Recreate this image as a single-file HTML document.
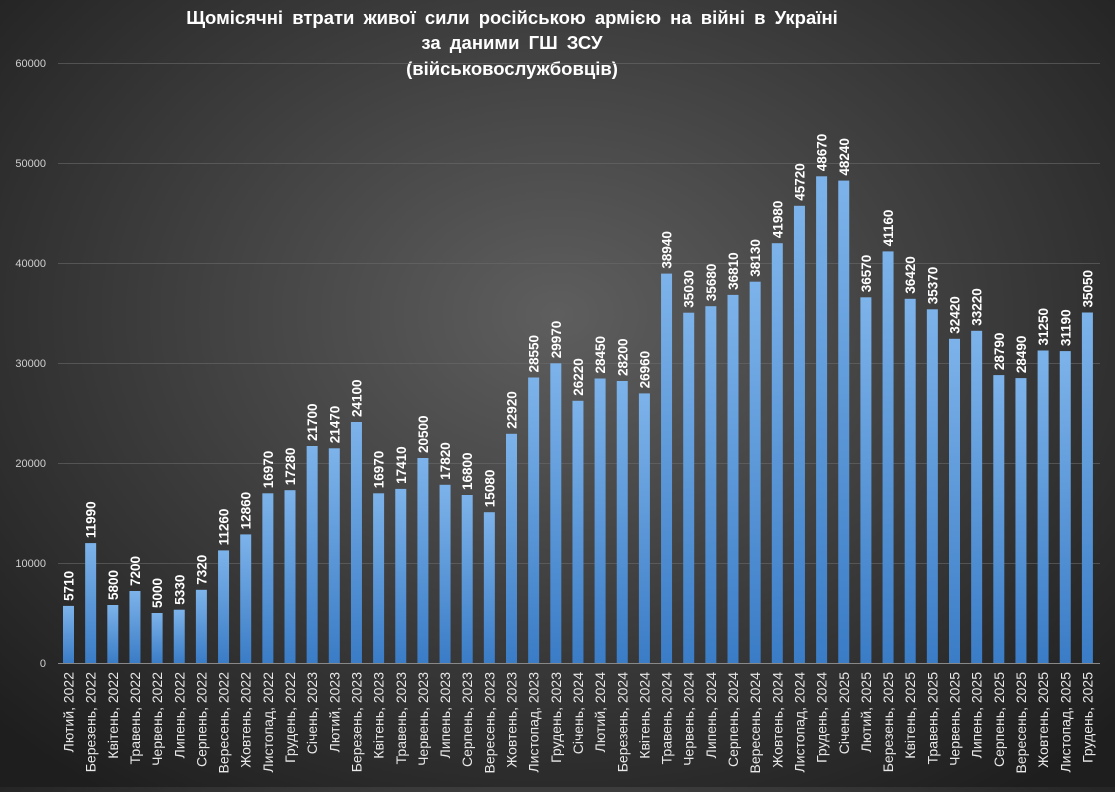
<!DOCTYPE html>
<html><head><meta charset="utf-8"><style>
html,body{margin:0;padding:0;}
body{width:1115px;height:787px;overflow:hidden;background:radial-gradient(ellipse 70% 75% at 50% 40%,#5e5e5e 0%,#3e3e3e 50%,#1e1e1e 100%);font-family:"Liberation Sans",sans-serif;}
svg text{font-family:"Liberation Sans",sans-serif;}
.v{font-weight:bold;fill:#fff;font-size:13.5px;}
.m{fill:#e8e8e8;font-size:14px;text-anchor:end;}
</style></head><body>
<svg width="1115" height="787" xmlns="http://www.w3.org/2000/svg">
<defs><linearGradient id="g" x1="0" y1="0" x2="0" y2="1"><stop offset="0" stop-color="#7db3ea"/><stop offset="1" stop-color="#3a7cc6"/></linearGradient></defs>
<g font-weight="bold" font-size="18.5" fill="#fff" text-anchor="middle" word-spacing="4">
<text x="512" y="24">Щомісячні  втрати живої сили російською  армією  на війні  в Україні</text>
<text x="512" y="49">за даними  ГШ ЗСУ</text>
<text x="512" y="75">(військовослужбовців)</text>
</g>
<g stroke="#6a6a6a" stroke-width="1" opacity="0.6">
<line x1="58" x2="1100" y1="63.5" y2="63.5"/><line x1="58" x2="1100" y1="163.5" y2="163.5"/><line x1="58" x2="1100" y1="263.5" y2="263.5"/><line x1="58" x2="1100" y1="363.5" y2="363.5"/><line x1="58" x2="1100" y1="463.5" y2="463.5"/><line x1="58" x2="1100" y1="563.5" y2="563.5"/>
</g>
<line x1="58" x2="1100" y1="663.5" y2="663.5" stroke="#888"/>
<g font-size="11" fill="#d0d0d0" text-anchor="end">
<text x="46" y="67">60000</text><text x="46" y="167">50000</text><text x="46" y="267">40000</text><text x="46" y="367">30000</text><text x="46" y="467">20000</text><text x="46" y="567">10000</text><text x="46" y="667">0</text>
</g>
<g>
<g transform="translate(68.5,663)"><rect x="-5.5" y="-57.1" width="11" height="57.1" fill="url(#g)"/><text class="v" transform="translate(5,-62.1) rotate(-90)">5710</text><text class="m" transform="translate(5,9) rotate(-90)">Лютий, 2022</text></g>
<g transform="translate(90.65,663)"><rect x="-5.5" y="-119.9" width="11" height="119.9" fill="url(#g)"/><text class="v" transform="translate(5,-124.9) rotate(-90)">11990</text><text class="m" transform="translate(5,9) rotate(-90)">Березень, 2022</text></g>
<g transform="translate(112.8,663)"><rect x="-5.5" y="-58" width="11" height="58" fill="url(#g)"/><text class="v" transform="translate(5,-63) rotate(-90)">5800</text><text class="m" transform="translate(5,9) rotate(-90)">Квітень, 2022</text></g>
<g transform="translate(134.95,663)"><rect x="-5.5" y="-72" width="11" height="72" fill="url(#g)"/><text class="v" transform="translate(5,-77) rotate(-90)">7200</text><text class="m" transform="translate(5,9) rotate(-90)">Травень, 2022</text></g>
<g transform="translate(157.1,663)"><rect x="-5.5" y="-50" width="11" height="50" fill="url(#g)"/><text class="v" transform="translate(5,-55) rotate(-90)">5000</text><text class="m" transform="translate(5,9) rotate(-90)">Червень, 2022</text></g>
<g transform="translate(179.25,663)"><rect x="-5.5" y="-53.3" width="11" height="53.3" fill="url(#g)"/><text class="v" transform="translate(5,-58.3) rotate(-90)">5330</text><text class="m" transform="translate(5,9) rotate(-90)">Липень, 2022</text></g>
<g transform="translate(201.4,663)"><rect x="-5.5" y="-73.2" width="11" height="73.2" fill="url(#g)"/><text class="v" transform="translate(5,-78.2) rotate(-90)">7320</text><text class="m" transform="translate(5,9) rotate(-90)">Серпень, 2022</text></g>
<g transform="translate(223.55,663)"><rect x="-5.5" y="-112.6" width="11" height="112.6" fill="url(#g)"/><text class="v" transform="translate(5,-117.6) rotate(-90)">11260</text><text class="m" transform="translate(5,9) rotate(-90)">Вересень, 2022</text></g>
<g transform="translate(245.7,663)"><rect x="-5.5" y="-128.6" width="11" height="128.6" fill="url(#g)"/><text class="v" transform="translate(5,-133.6) rotate(-90)">12860</text><text class="m" transform="translate(5,9) rotate(-90)">Жовтень, 2022</text></g>
<g transform="translate(267.85,663)"><rect x="-5.5" y="-169.7" width="11" height="169.7" fill="url(#g)"/><text class="v" transform="translate(5,-174.7) rotate(-90)">16970</text><text class="m" transform="translate(5,9) rotate(-90)">Листопад, 2022</text></g>
<g transform="translate(290,663)"><rect x="-5.5" y="-172.8" width="11" height="172.8" fill="url(#g)"/><text class="v" transform="translate(5,-177.8) rotate(-90)">17280</text><text class="m" transform="translate(5,9) rotate(-90)">Грудень, 2022</text></g>
<g transform="translate(312.15,663)"><rect x="-5.5" y="-217" width="11" height="217" fill="url(#g)"/><text class="v" transform="translate(5,-222) rotate(-90)">21700</text><text class="m" transform="translate(5,9) rotate(-90)">Січень, 2023</text></g>
<g transform="translate(334.3,663)"><rect x="-5.5" y="-214.7" width="11" height="214.7" fill="url(#g)"/><text class="v" transform="translate(5,-219.7) rotate(-90)">21470</text><text class="m" transform="translate(5,9) rotate(-90)">Лютий, 2023</text></g>
<g transform="translate(356.45,663)"><rect x="-5.5" y="-241" width="11" height="241" fill="url(#g)"/><text class="v" transform="translate(5,-246) rotate(-90)">24100</text><text class="m" transform="translate(5,9) rotate(-90)">Березень, 2023</text></g>
<g transform="translate(378.6,663)"><rect x="-5.5" y="-169.7" width="11" height="169.7" fill="url(#g)"/><text class="v" transform="translate(5,-174.7) rotate(-90)">16970</text><text class="m" transform="translate(5,9) rotate(-90)">Квітень, 2023</text></g>
<g transform="translate(400.75,663)"><rect x="-5.5" y="-174.1" width="11" height="174.1" fill="url(#g)"/><text class="v" transform="translate(5,-179.1) rotate(-90)">17410</text><text class="m" transform="translate(5,9) rotate(-90)">Травень, 2023</text></g>
<g transform="translate(422.9,663)"><rect x="-5.5" y="-205" width="11" height="205" fill="url(#g)"/><text class="v" transform="translate(5,-210) rotate(-90)">20500</text><text class="m" transform="translate(5,9) rotate(-90)">Червень, 2023</text></g>
<g transform="translate(445.05,663)"><rect x="-5.5" y="-178.2" width="11" height="178.2" fill="url(#g)"/><text class="v" transform="translate(5,-183.2) rotate(-90)">17820</text><text class="m" transform="translate(5,9) rotate(-90)">Липень, 2023</text></g>
<g transform="translate(467.2,663)"><rect x="-5.5" y="-168" width="11" height="168" fill="url(#g)"/><text class="v" transform="translate(5,-173) rotate(-90)">16800</text><text class="m" transform="translate(5,9) rotate(-90)">Серпень, 2023</text></g>
<g transform="translate(489.35,663)"><rect x="-5.5" y="-150.8" width="11" height="150.8" fill="url(#g)"/><text class="v" transform="translate(5,-155.8) rotate(-90)">15080</text><text class="m" transform="translate(5,9) rotate(-90)">Вересень, 2023</text></g>
<g transform="translate(511.5,663)"><rect x="-5.5" y="-229.2" width="11" height="229.2" fill="url(#g)"/><text class="v" transform="translate(5,-234.2) rotate(-90)">22920</text><text class="m" transform="translate(5,9) rotate(-90)">Жовтень, 2023</text></g>
<g transform="translate(533.65,663)"><rect x="-5.5" y="-285.5" width="11" height="285.5" fill="url(#g)"/><text class="v" transform="translate(5,-290.5) rotate(-90)">28550</text><text class="m" transform="translate(5,9) rotate(-90)">Листопад, 2023</text></g>
<g transform="translate(555.8,663)"><rect x="-5.5" y="-299.7" width="11" height="299.7" fill="url(#g)"/><text class="v" transform="translate(5,-304.7) rotate(-90)">29970</text><text class="m" transform="translate(5,9) rotate(-90)">Грудень, 2023</text></g>
<g transform="translate(577.95,663)"><rect x="-5.5" y="-262.2" width="11" height="262.2" fill="url(#g)"/><text class="v" transform="translate(5,-267.2) rotate(-90)">26220</text><text class="m" transform="translate(5,9) rotate(-90)">Січень, 2024</text></g>
<g transform="translate(600.1,663)"><rect x="-5.5" y="-284.5" width="11" height="284.5" fill="url(#g)"/><text class="v" transform="translate(5,-289.5) rotate(-90)">28450</text><text class="m" transform="translate(5,9) rotate(-90)">Лютий, 2024</text></g>
<g transform="translate(622.25,663)"><rect x="-5.5" y="-282" width="11" height="282" fill="url(#g)"/><text class="v" transform="translate(5,-287) rotate(-90)">28200</text><text class="m" transform="translate(5,9) rotate(-90)">Березень, 2024</text></g>
<g transform="translate(644.4,663)"><rect x="-5.5" y="-269.6" width="11" height="269.6" fill="url(#g)"/><text class="v" transform="translate(5,-274.6) rotate(-90)">26960</text><text class="m" transform="translate(5,9) rotate(-90)">Квітень, 2024</text></g>
<g transform="translate(666.55,663)"><rect x="-5.5" y="-389.4" width="11" height="389.4" fill="url(#g)"/><text class="v" transform="translate(5,-394.4) rotate(-90)">38940</text><text class="m" transform="translate(5,9) rotate(-90)">Травень, 2024</text></g>
<g transform="translate(688.7,663)"><rect x="-5.5" y="-350.3" width="11" height="350.3" fill="url(#g)"/><text class="v" transform="translate(5,-355.3) rotate(-90)">35030</text><text class="m" transform="translate(5,9) rotate(-90)">Червень, 2024</text></g>
<g transform="translate(710.85,663)"><rect x="-5.5" y="-356.8" width="11" height="356.8" fill="url(#g)"/><text class="v" transform="translate(5,-361.8) rotate(-90)">35680</text><text class="m" transform="translate(5,9) rotate(-90)">Липень, 2024</text></g>
<g transform="translate(733,663)"><rect x="-5.5" y="-368.1" width="11" height="368.1" fill="url(#g)"/><text class="v" transform="translate(5,-373.1) rotate(-90)">36810</text><text class="m" transform="translate(5,9) rotate(-90)">Серпень, 2024</text></g>
<g transform="translate(755.15,663)"><rect x="-5.5" y="-381.3" width="11" height="381.3" fill="url(#g)"/><text class="v" transform="translate(5,-386.3) rotate(-90)">38130</text><text class="m" transform="translate(5,9) rotate(-90)">Вересень, 2024</text></g>
<g transform="translate(777.3,663)"><rect x="-5.5" y="-419.8" width="11" height="419.8" fill="url(#g)"/><text class="v" transform="translate(5,-424.8) rotate(-90)">41980</text><text class="m" transform="translate(5,9) rotate(-90)">Жовтень, 2024</text></g>
<g transform="translate(799.45,663)"><rect x="-5.5" y="-457.2" width="11" height="457.2" fill="url(#g)"/><text class="v" transform="translate(5,-462.2) rotate(-90)">45720</text><text class="m" transform="translate(5,9) rotate(-90)">Листопад, 2024</text></g>
<g transform="translate(821.6,663)"><rect x="-5.5" y="-486.7" width="11" height="486.7" fill="url(#g)"/><text class="v" transform="translate(5,-491.7) rotate(-90)">48670</text><text class="m" transform="translate(5,9) rotate(-90)">Грудень, 2024</text></g>
<g transform="translate(843.75,663)"><rect x="-5.5" y="-482.4" width="11" height="482.4" fill="url(#g)"/><text class="v" transform="translate(5,-487.4) rotate(-90)">48240</text><text class="m" transform="translate(5,9) rotate(-90)">Січень, 2025</text></g>
<g transform="translate(865.9,663)"><rect x="-5.5" y="-365.7" width="11" height="365.7" fill="url(#g)"/><text class="v" transform="translate(5,-370.7) rotate(-90)">36570</text><text class="m" transform="translate(5,9) rotate(-90)">Лютий, 2025</text></g>
<g transform="translate(888.05,663)"><rect x="-5.5" y="-411.6" width="11" height="411.6" fill="url(#g)"/><text class="v" transform="translate(5,-416.6) rotate(-90)">41160</text><text class="m" transform="translate(5,9) rotate(-90)">Березень, 2025</text></g>
<g transform="translate(910.2,663)"><rect x="-5.5" y="-364.2" width="11" height="364.2" fill="url(#g)"/><text class="v" transform="translate(5,-369.2) rotate(-90)">36420</text><text class="m" transform="translate(5,9) rotate(-90)">Квітень, 2025</text></g>
<g transform="translate(932.35,663)"><rect x="-5.5" y="-353.7" width="11" height="353.7" fill="url(#g)"/><text class="v" transform="translate(5,-358.7) rotate(-90)">35370</text><text class="m" transform="translate(5,9) rotate(-90)">Травень, 2025</text></g>
<g transform="translate(954.5,663)"><rect x="-5.5" y="-324.2" width="11" height="324.2" fill="url(#g)"/><text class="v" transform="translate(5,-329.2) rotate(-90)">32420</text><text class="m" transform="translate(5,9) rotate(-90)">Червень, 2025</text></g>
<g transform="translate(976.65,663)"><rect x="-5.5" y="-332.2" width="11" height="332.2" fill="url(#g)"/><text class="v" transform="translate(5,-337.2) rotate(-90)">33220</text><text class="m" transform="translate(5,9) rotate(-90)">Липень, 2025</text></g>
<g transform="translate(998.8,663)"><rect x="-5.5" y="-287.9" width="11" height="287.9" fill="url(#g)"/><text class="v" transform="translate(5,-292.9) rotate(-90)">28790</text><text class="m" transform="translate(5,9) rotate(-90)">Серпень, 2025</text></g>
<g transform="translate(1020.95,663)"><rect x="-5.5" y="-284.9" width="11" height="284.9" fill="url(#g)"/><text class="v" transform="translate(5,-289.9) rotate(-90)">28490</text><text class="m" transform="translate(5,9) rotate(-90)">Вересень, 2025</text></g>
<g transform="translate(1043.1,663)"><rect x="-5.5" y="-312.5" width="11" height="312.5" fill="url(#g)"/><text class="v" transform="translate(5,-317.5) rotate(-90)">31250</text><text class="m" transform="translate(5,9) rotate(-90)">Жовтень, 2025</text></g>
<g transform="translate(1065.25,663)"><rect x="-5.5" y="-311.9" width="11" height="311.9" fill="url(#g)"/><text class="v" transform="translate(5,-316.9) rotate(-90)">31190</text><text class="m" transform="translate(5,9) rotate(-90)">Листопад, 2025</text></g>
<g transform="translate(1087.4,663)"><rect x="-5.5" y="-350.5" width="11" height="350.5" fill="url(#g)"/><text class="v" transform="translate(5,-355.5) rotate(-90)">35050</text><text class="m" transform="translate(5,9) rotate(-90)">Грудень, 2025</text></g>
</g>
</svg>
</body></html>
